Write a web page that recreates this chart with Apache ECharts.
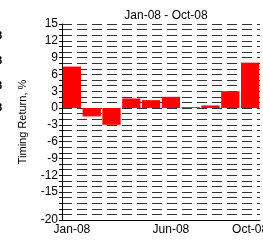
<!DOCTYPE html>
<html>
<head>
<meta charset="utf-8">
<script src="https://cdn.jsdelivr.net/npm/echarts@6/dist/echarts.min.js"></script>
<style>
  html, body { margin: 0; padding: 0; background: #fff; }
  #main { width: 263px; height: 240px; }
</style>
</head>
<body>
<div id="main"></div>
<script>
// monthly timing return, %
var months = ['Jan-08', 'Feb-08', 'Mar-08', 'Apr-08', 'May-08', 'Jun-08', 'Jul-08', 'Aug-08', 'Sep-08', 'Oct-08'];
var timingReturn = [7.4, -1.5, -3.0, 1.7, 1.4, 2.0, 0.15, 0.45, 3.0, 8.1];
var shownMonths = [0, 5, 9];
var yLabels = [15, 12, 9, 6, 3, 0, -3, -6, -9, -12, -15, -20];

var myChart = echarts.init(document.getElementById('main'));
var font = 'Liberation Sans, Arial, sans-serif';

var option = {
    animation: false,
    title: {
        text: 'Jan-08 - Oct-08',
        left: 161,
        top: 5,
        textAlign: 'center',
        textStyle: { fontFamily: font, fontSize: 12, fontWeight: 'normal', color: '#000' }
    },
    grid: { left: 62, right: 3, top: 24, bottom: 20, outerBoundsMode: 'none', containLabel: false },
    xAxis: {
        type: 'category',
        data: months,
        boundaryGap: true,
        axisLine: { onZero: false, lineStyle: { color: '#000' } },
        axisTick: {
            alignWithLabel: true,
            length: 4,
            interval: function (i) { return shownMonths.indexOf(i) >= 0; },
            lineStyle: { color: '#000' }
        },
        axisLabel: {
            interval: function (i) { return shownMonths.indexOf(i) >= 0; },
            margin: 4,
            fontFamily: font,
            fontSize: 12,
            color: '#000'
        },
        splitLine: { show: false }
    },
    yAxis: {
        type: 'value',
        min: -20,
        max: 15,
        interval: 1,
        name: 'Timing Return, %',
        nameLocation: 'middle',
        nameGap: 34,
        nameTextStyle: { fontFamily: font, fontSize: 11, color: '#000' },
        axisLine: { show: true, lineStyle: { color: '#000' } },
        axisTick: { show: true, length: 3, lineStyle: { color: '#000' } },
        axisLabel: {
            margin: 4,
            fontFamily: font,
            fontSize: 12,
            color: '#000',
            formatter: function (v) {
                return yLabels.indexOf(v) >= 0 ? String(v) : '';
            }
        },
        splitLine: {
            show: true,
            lineStyle: { color: '#333', type: [10, 5], width: 1 }
        }
    },
    series: [{
        type: 'bar',
        data: timingReturn,
        barCategoryGap: '8%',
        itemStyle: { color: '#ff0000' }
    }],
    // cut-off labels of the neighbouring chart
    graphic: [35, 60, 85, 107].map(function (y) {
        return {
            type: 'text',
            left: -4,
            top: y - 5,
            style: { text: '8', font: 'bold 11px ' + font, fill: '#000' }
        };
    })
};
myChart.setOption(option);
</script>
</body>
</html>
